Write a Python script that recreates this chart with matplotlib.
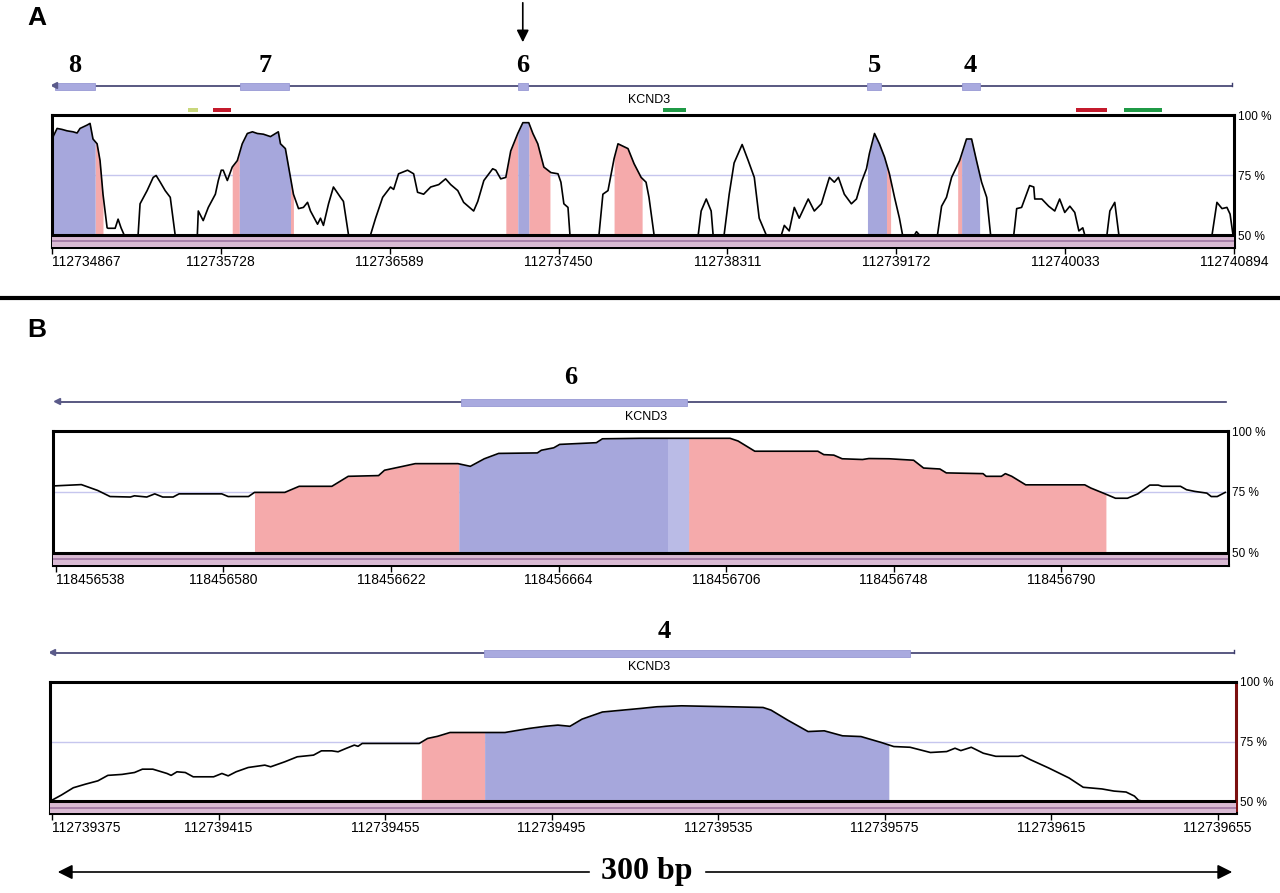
import numpy as np
import matplotlib
matplotlib.use("Agg")
import matplotlib.pyplot as plt
from matplotlib.patches import Rectangle

plt.rcParams["font.family"] = ["Liberation Sans", "DejaVu Sans"]

W, H = 1280, 893

BLUE = "#a6a7dc"
BLUE_LIGHT = "#babbe6"
PINK = "#f5aaab"
GRID = "#c6c6ee"
STRIP = "#d9bad3"
STRIP_MID = "#a77fa9"
GENE = "#3c3c6c"
EXON = "#a9aadf"

# ---- panel A: whole region, positions are bp offsets from A_START
A_START = 112734867
A_TICKS = [112734867, 112735728, 112736589, 112737450,
           112738311, 112739172, 112740033, 112740894]
a_pos = [0, 26, 51, 77, 107, 128, 143, 179, 194, 209, 230, 245, 260, 281, 286, 322, 337, 352, 368,
         439, 449, 485, 516, 531, 552, 577, 603, 628,
         741, 746, 771, 797, 833, 848, 863, 873, 894, 919, 945, 970, 996, 1022, 1047, 1078, 1114,
         1154, 1165, 1190, 1216, 1231, 1257, 1282, 1303, 1318, 1354, 1369, 1384, 1410, 1435, 1471,
         1486, 1512,
         1624, 1650, 1686, 1726, 1742, 1767, 1813, 1844, 1864, 1895, 1931, 1972, 2007, 2033, 2069,
         2099, 2150, 2171, 2202, 2247, 2263, 2288, 2314, 2339, 2375, 2401, 2431, 2452, 2477, 2508,
         2544, 2580, 2595, 2610, 2631, 2641,
         2789, 2809, 2835, 2866, 2886, 2901, 2937, 2968, 3004, 3029, 3044, 3070,
         3295, 3310, 3336, 3361, 3371,
         3427, 3453, 3478, 3519, 3550, 3581, 3606, 3642,
         3719, 3734, 3759, 3785, 3810, 3856, 3887, 3923, 3964, 3989, 4010, 4040, 4076, 4102, 4127,
         4153, 4168, 4194, 4219, 4245, 4270, 4296, 4321, 4337,
         4398, 4408, 4423,
         4515, 4536, 4561, 4587, 4628, 4663, 4689, 4714, 4740, 4766, 4786,
         4904, 4919, 4944, 4960, 4985, 5006, 5011, 5047, 5082, 5113, 5138, 5164, 5190, 5215, 5236,
         5256, 5266,
         5379, 5394, 5419, 5440,
         5915, 5940, 5966, 5991, 6007, 6022, 6027]
a_cons = [90, 94.4, 94, 93.4, 93, 92.5, 94.4, 95.8, 96.5, 90, 88, 81, 67, 53, 52.8, 52.8, 56.6, 53, 50,
          50, 63, 68.5, 74, 74.8, 72, 68.5, 65.7, 50,
          50, 60, 56, 61.5, 67, 72.7, 77, 77, 72.7, 78.3, 81, 88, 92.3, 93, 92.3, 92, 91,
          93, 88, 86, 74, 67, 61, 61.5, 63.6, 60, 54.5, 57, 54, 63, 70, 65.7,
          64, 50,
          50, 57, 65.7, 70, 69, 75.5, 77, 75.5, 67.8, 67, 70, 71, 73.4, 71, 68.5,
          63.6, 60, 64, 72.7, 77.6, 77, 73.4, 74, 85, 92.3, 96.8, 96.8, 92.3, 88, 78.3,
          76, 75.5, 72, 63, 61.5, 50,
          50, 67, 68.5, 81.8, 88, 87.4, 86, 79.7, 74, 72, 65.7, 50,
          50, 60, 65, 60, 50,
          50, 67, 80, 87.7, 81, 74, 57, 50,
          50, 54, 51.7, 61.5, 57, 65, 60, 63, 74, 72, 74, 67, 63, 65, 72,
          77.6, 84, 92.3, 88, 82.5, 75.5, 65.7, 57, 50,
          50, 51.4, 50,
          50, 62, 65.7, 74, 81, 90, 90, 81, 72, 65.7, 50,
          50, 61, 61.5, 65, 70.6, 70, 65, 65, 62, 60, 65, 59.4, 62, 59.4, 51.7,
          53, 50,
          50, 60, 63.6, 50,
          50, 63.6, 61, 61.5, 58.7, 50, 50]
a_blue = [(0, 220), (955, 1216), (2375, 2431), (4158, 4255), (4638, 4730)]
a_pink = [(220, 260), (919, 955), (1216, 1231), (2314, 2375), (2431, 2539),
          (2866, 3009), (4255, 4276), (4618, 4638)]
a_exon_start = [15, 960, 2375, 4158, 4638]
a_exon_end = [220, 1210, 2426, 4229, 4730]
a_exon_name = ["8", "7", "6", "5", "4"]
a_exon_label = [117, 1085, 2400, 4193, 4684]
a_gene = (10, 6015)
a_bar_start = [695, 822, 3116, 5220, 5465]
a_bar_end = [746, 914, 3233, 5379, 5659]
a_bar_color = ["#c9d77c", "#c41a2c", "#1f9a46", "#c41a2c", "#1f9a46"]

# ---- panel B: exon 6 close-up
B_START = 118456538
B_TICKS = [118456538, 118456580, 118456622, 118456664, 118456706, 118456748, 118456790]
b_pos = [0, 6.4, 10.5, 13.6, 18.7, 19.7, 22.8, 24.8, 26.8, 29.4, 30.9, 41.6, 43.2, 48.3, 49.8,
         57.4, 61, 69.2, 73.3, 80.9, 82.4, 87, 90.1, 100.8, 103.9, 107.4, 111, 120.7, 121.7,
         124.8, 126.3, 135.5, 137, 146.5, 169, 171, 175.2, 191, 192.5, 195, 197.1, 202.2, 203.8,
         208.9, 215, 217.5, 221.6, 223.2, 232.4, 233.2, 237, 238, 239.6, 243.1, 257.9, 259.4,
         263, 265.6, 268.6, 271.2, 274.2, 276.3, 277.3, 281.9, 283.4, 285.5, 288.5, 289.6,
         291.1, 293.1]
b_cons = [77.5, 78, 75.6, 73.1, 72.9, 73.4, 72.9, 74.2, 72.9, 72.9, 74.2, 74.2, 73.1, 73.1, 74.8,
          74.8, 77.3, 77.3, 81.4, 81.7, 83.9, 85.5, 86.6, 86.6, 85.5, 88.6, 90.8, 91, 92.1,
          93.1, 94.5, 95.2, 96.8, 97, 97, 95.9, 91.7, 91.7, 90.3, 90.1, 88.6, 88.3, 88.7,
          88.6, 88, 84.8, 84.4, 82.8, 82.5, 81.4, 81.4, 82.5, 81.4, 77.9, 77.9, 76.6,
          74.2, 72.4, 72.4, 74.2, 77.8, 77.8, 77.3, 77.3, 75.9, 75.2, 74.5, 73.1,
          73.1, 74.8]
b_blue = [(101, 158.6)]
b_blue_light = [(153.5, 158.6)]
b_pink = [(49.8, 101), (158.6, 263.2)]
b_exon_start = [101.5]
b_exon_end = [158.1]
b_exon_name = ["6"]
b_exon_label = [129]
b_gene = (0.3, 293.2)

# ---- panel C: exon 4 close-up
C_START = 112739375
C_TICKS = [112739375, 112739415, 112739455, 112739495, 112739535, 112739575, 112739615, 112739655]
c_pos = [0, 2.2, 5.1, 8, 11, 13.4, 16.8, 19.8, 21.7, 24.2, 27.6, 28.6, 30, 32, 33.9, 38.8, 40.8,
         42.3, 44.2, 47.1, 51.1, 52.5, 55.9, 58.9, 62.8, 64.7, 67.2, 68.7, 70.6, 72.6, 73.5,
         74.5, 88.2, 90.2, 92.6, 95.6, 108.8, 114.6, 118.5, 121.5, 124.4, 127.3, 132.2, 141.4,
         145.3, 151.2, 162.9, 170.8, 172.7, 176.7, 181.6, 185.5, 189.9, 194.3, 199.2, 202.2,
         206.1, 211, 214.9, 216.9, 218.3, 220.8, 223.7, 226.7, 232.1, 233, 235, 239.4, 244.3,
         247.7, 252.2, 255.1, 258, 260, 261, 262, 284.4]
c_cons = [50.4, 52.5, 55.6, 57.1, 58.5, 60.8, 61.2, 62, 63.4, 63.4, 61.6, 60.8, 62.3, 62, 60.2, 60.2, 61.6,
          60.6, 62.3, 64.1, 65.1, 64.4, 66.5, 68.6, 69.3, 71.1, 71.1, 70.7, 72.1, 73.5, 73,
          74.2, 74.2, 76.3, 77.2, 78.8, 78.8, 80.5, 81.4, 81.9, 81.4, 84.4, 87.4, 88.9,
          89.6, 90, 89.6, 89.3, 88.2, 84, 79.2, 79.5, 77.4, 77.1, 74.6, 72.9,
          72.6, 70.4, 70.8, 72.2, 71.2, 72.6, 70.1, 68.8, 68.8, 69.2, 67.4, 63.9, 59.7,
          55.8, 55.1, 54.2, 53.8, 52.1, 50.3, 50, 50]
c_blue = [(103.9, 201)]
c_pink = [(88.7, 103.9)]
c_exon_start = [103.8]
c_exon_end = [206]
c_exon_name = ["4"]
c_exon_label = [147]
c_gene = (0, 284)

fig = plt.figure(figsize=(12.8, 8.93), dpi=100)


def px_axes(left, top, right, bottom):
    return fig.add_axes([left / W, 1 - bottom / H, (right - left) / W, (bottom - top) / H])


def shade(ax, x, y, lo, hi, color):
    xs = np.concatenate([[lo], x[(x > lo) & (x < hi)], [hi]])
    ax.fill_between(xs, 50, np.interp(xs, x, y), color=color, lw=0, zorder=2)


def conservation(box, start, xlim, ticks, pos, cons, blue, pink, light=(), right_color="black"):
    ax = px_axes(*box)
    x = start + np.asarray(pos, float)
    y = np.asarray(cons, float)
    ax.set_xlim(start + xlim[0], start + xlim[1])
    ax.set_ylim(45, 100)
    ax.axhline(75, color=GRID, lw=1, zorder=1)
    for lo, hi in pink:
        shade(ax, x, y, start + lo, start + hi, PINK)
    for lo, hi in blue:
        shade(ax, x, y, start + lo, start + hi, BLUE)
    for lo, hi in light:
        shade(ax, x, y, start + lo, start + hi, BLUE_LIGHT)
    ax.plot(x, y, color="black", lw=1.2, zorder=3)
    # the grey-mauve base strip under the 50 % line
    ax.axhspan(45, 50, color=STRIP, lw=0, zorder=4)
    ax.axhline(47.3, color=STRIP_MID, lw=1.4, zorder=4)
    ax.axhline(50, color="black", lw=2.2, zorder=5)
    for sp in ax.spines.values():
        sp.set_linewidth(2.2)
    ax.spines["right"].set_color(right_color)
    ax.set_xticks(ticks)
    ax.set_xticklabels([str(t) for t in ticks], fontsize=10)
    ax.get_xticklabels()[0].set_ha("left")
    ax.tick_params(axis="x", direction="out", length=5, width=1, pad=1)
    ax.yaxis.tick_right()
    ax.set_yticks([50, 75, 100])
    ax.set_yticklabels(["50 %", "75 %", "100 %"], fontsize=8.5)
    ax.tick_params(axis="y", length=0, pad=3)
    return ax


def gene_track(box, start, xlim, gene, ex_s, ex_e, names, label_x, line_y, name_y, kcnd_y, hook=True):
    ax = px_axes(*box)
    ax.set_xlim(start + xlim[0], start + xlim[1])
    ax.set_ylim(box[3], box[1])
    ax.axis("off")
    ax.plot([start + gene[0], start + gene[1]], [line_y, line_y], color=GENE, lw=1.2, zorder=2)
    ax.plot(start + gene[0], line_y - 1.5, marker="<", ms=5, color="#5a5a8a", zorder=4)
    if hook:
        ax.plot([start + gene[1], start + gene[1]], [line_y, line_y - 3], color=GENE, lw=1)
    for s, e, n, lx in zip(ex_s, ex_e, names, label_x):
        ax.add_patch(Rectangle((start + s, line_y - 3.5), e - s, 7, fc=EXON, ec="#9899d4",
                               lw=0.6, zorder=3))
        ax.text(start + lx, name_y, n, ha="center", va="center", fontsize=19,
                fontweight="bold", family="Liberation Serif")
    ax.text(0.505, kcnd_y, "KCND3", transform=ax.get_yaxis_transform(), ha="center",
            va="center", fontsize=9)
    return ax


# panel A
A_XLIM = (0, 6027)
conservation((52, 115, 1234, 247), A_START, A_XLIM, A_TICKS, a_pos, a_cons, a_blue, a_pink)
trA = gene_track((52, 40, 1234, 113), A_START, A_XLIM, a_gene, a_exon_start, a_exon_end,
                 a_exon_name, a_exon_label, 86, 66, 100)
for s, e, c in zip(a_bar_start, a_bar_end, a_bar_color):
    trA.add_patch(Rectangle((A_START + s, 108), e - s, 4, fc=c, ec="none"))
ex6 = A_START + (a_exon_start[2] + a_exon_end[2]) / 2
trA.annotate("", xy=(ex6, 45), xytext=(ex6, 0), annotation_clip=False,
             arrowprops=dict(arrowstyle="-|>", color="black", lw=1.2, mutation_scale=18))

# panel B
B_XLIM = (-0.7, 293.8)
conservation((53, 431, 1228, 565), B_START, B_XLIM, B_TICKS, b_pos, b_cons, b_blue, b_pink,
             light=b_blue_light)
gene_track((53, 360, 1228, 428), B_START, B_XLIM, b_gene, b_exon_start, b_exon_end,
           b_exon_name, b_exon_label, 402, 377, 417, hook=False)

# panel C
C_XLIM = (-0.5, 284.4)
conservation((50, 682, 1236, 813), C_START, C_XLIM, C_TICKS, c_pos, c_cons, c_blue, c_pink,
             right_color="#7b1010")
gene_track((50, 610, 1236, 678), C_START, C_XLIM, c_gene, c_exon_start, c_exon_end,
           c_exon_name, c_exon_label, 653, 632, 667)

# overlay: panel letters, separator, scale arrow
ov = fig.add_axes([0, 0, 1, 1])
ov.set_xlim(0, W)
ov.set_ylim(H, 0)
ov.axis("off")
ov.text(37, 18, "A", ha="center", va="center", fontsize=19, fontweight="bold")
ov.text(37, 330, "B", ha="center", va="center", fontsize=19, fontweight="bold")
ov.plot([0, W], [298, 298], color="black", lw=3)
arrow = dict(arrowstyle="-|>", color="black", lw=1.2, mutation_scale=22)
ov.annotate("", xy=(55, 872), xytext=(592, 872), arrowprops=arrow)
ov.annotate("", xy=(1235, 872), xytext=(703, 872), arrowprops=arrow)
ov.text(647, 872, "300 bp", ha="center", va="center", fontsize=23, fontweight="bold",
        family="Liberation Serif")

fig.savefig("out.png", dpi=100)
